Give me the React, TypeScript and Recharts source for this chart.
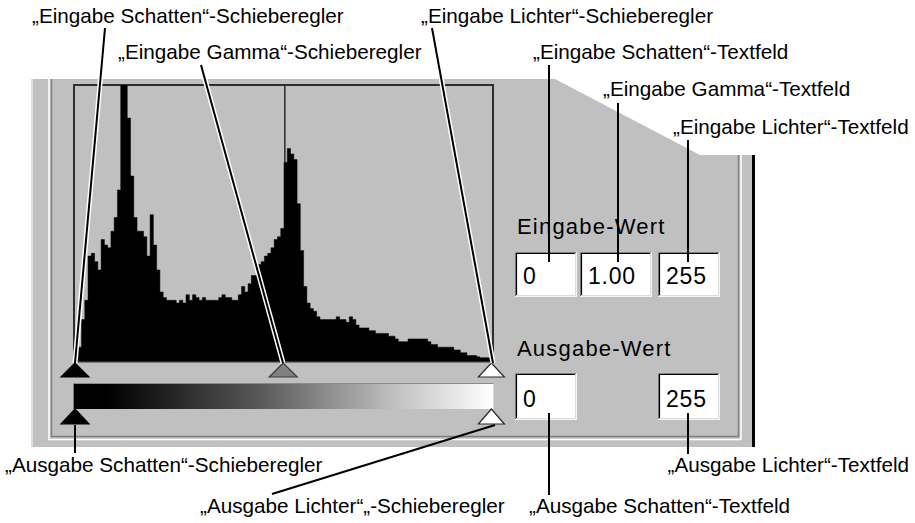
import React from "react";
import { AreaChart, Area, XAxis, YAxis, ReferenceDot, ReferenceArea, ReferenceLine } from "recharts";

// Histogram (relative counts, 100 = top of the histogram window), 128 bins of 2 levels each
const histogramBins = [
  1, 5, 15, 22, 38, 39, 36, 33, 44, 42, 41, 47, 52, 62, 100, 100,
  88, 67, 52, 47, 47, 45, 38, 53, 42, 33, 25, 23, 22, 22, 22, 21,
  22, 21, 24, 22, 24, 23, 22, 23, 22, 22, 22, 22, 23, 24, 23, 23,
  22, 22, 24, 27, 25, 28, 31, 31, 35, 36, 38, 39, 41, 44, 45, 48,
  72, 77, 75, 73, 57, 40, 27, 21, 19, 18, 16, 15, 15, 15, 15, 15,
  16, 15, 15, 14, 16, 15, 13, 12, 12, 12, 11, 11, 10, 10, 10, 10,
  9, 9, 8, 7, 7, 7, 8, 8, 8, 8, 8, 8, 7, 6, 6, 5,
  5, 5, 5, 5, 4, 4, 3, 3, 2, 2, 2, 1.5, 1.2, 1.2, 1.2, 1.2,
];
const BIN_WIDTH = 2;
// single-level spike that runs off the top of the window
const spikeLevel = 128.5;
const spikeBase = 72;
const spikeTop = 100;

const histogramData = [
  ...histogramBins.map((v, i) => ({ level: i * BIN_WIDTH, count: v })),
  // closing edge of the last step
  { level: histogramBins.length * BIN_WIDTH, count: histogramBins[histogramBins.length - 1] },
];

// Slider / field values
const inputLevels = [0, 255]; // Schatten, Lichter
const inputGamma = 1.0;
const outputLevels = [0, 255];
const inputFieldValues = ["0", "1.00", "255"];
const outputFieldValues = ["0", "255"];
const fieldGroupLabels = ["Eingabe-Wert", "Ausgabe-Wert"];

const topAnnotationTexts = [
  "\u201EEingabe Schatten\u201C-Schieberegler",
  "\u201EEingabe Gamma\u201C-Schieberegler",
  "\u201EEingabe Lichter\u201C-Schieberegler",
  "\u201EEingabe Schatten\u201C-Textfeld",
  "\u201EEingabe Gamma\u201C-Textfeld",
  "\u201EEingabe Lichter\u201C-Textfeld",
];
const bottomAnnotationTexts = [
  "\u201EAusgabe Schatten\u201C-Schieberegler",
  "\u201EAusgabe Lichter\u201C\u201E-Schieberegler",
  "\u201EAusgabe Schatten\u201C-Textfeld",
  "\u201EAusgabe Lichter\u201C-Textfeld",
];

// ---------- layout (not data) ----------
const W = 915;
const H = 523;
const ANN_FONT = "'Liberation Sans', Arial, Helvetica, sans-serif";
const topAnnLayout = [
  { x: 32, y: 23, anchor: "start", line: [105, 28, 75, 363], halo: true },
  { x: 118, y: 59, anchor: "start", line: [201, 65, 283, 363], halo: true },
  { x: 421, y: 23, anchor: "start", line: [432, 28, 493, 363], halo: true },
  { x: 533, y: 59, anchor: "start", line: [549, 65, 549, 262], halo: false },
  { x: 603, y: 96, anchor: "start", line: [618, 103, 618, 262], halo: false },
  { x: 673, y: 134, anchor: "start", line: [688, 140, 688, 262], halo: false },
];
const bottomAnnLayout = [
  { x: 5, y: 472, anchor: "start", line: [75, 425, 75, 453], halo: false },
  { x: 200, y: 513, anchor: "start", line: [495, 425, 272, 494], halo: false },
  { x: 529, y: 513, anchor: "start", line: [549, 413, 549, 495], halo: false },
  { x: 909, y: 472, anchor: "end", line: [688, 413, 688, 454], halo: false },
];
const inputBoxes = [
  { x: 515, y: 252, w: 62, h: 45 },
  { x: 580, y: 252, w: 72, h: 45 },
  { x: 658, y: 252, w: 62, h: 45 },
];
const outputBoxes = [
  { x: 515, y: 373, w: 62, h: 47 },
  { x: 658, y: 373, w: 62, h: 47 },
];

const tri =
  (fill: string, stroke: string, dy: number, h: number, hw: number) =>
  (props: any) => {
    const { cx, cy } = props;
    if (cx == null || cy == null) return <g />;
    return (
      <polygon
        points={`${cx},${cy + dy} ${cx - hw},${cy + dy + h} ${cx + hw},${cy + dy + h}`}
        fill={fill}
        stroke={stroke}
        strokeWidth={1.2}
        strokeLinejoin="miter"
      />
    );
  };

const gradientShape = (p: any) => {
  const { x, y, width, height } = p;
  if (x == null) return <g />;
  const top = y + height + 22;
  return (
    <g>
      <defs>
        <linearGradient id="outGrad" x1="0" x2="1" y1="0" y2="0">
          <stop offset="0" stopColor="#000" />
          <stop offset="0.08" stopColor="#000" />
          <stop offset="0.2" stopColor="#1c1c1c" />
          <stop offset="0.45" stopColor="#5a5a5a" />
          <stop offset="0.75" stopColor="#bcbcbc" />
          <stop offset="1" stopColor="#ffffff" />
        </linearGradient>
      </defs>
      <rect x={x - 2} y={top} width={width + 4} height={26} fill="url(#outGrad)" />
      <line x1={x - 2} y1={top + 0.5} x2={x + width + 2} y2={top + 0.5} stroke="#8a8a8a" strokeWidth={1} />
      <line x1={x - 1.5} y1={top} x2={x - 1.5} y2={top + 26} stroke="#7a7a7a" strokeWidth={1} />
    </g>
  );
};

function Field({ b, text }: { b: { x: number; y: number; w: number; h: number }; text: string }) {
  const { x, y, w, h } = b;
  return (
    <g>
      <rect x={x} y={y} width={w} height={h} fill="#ffffff" />
      <polyline points={`${x + 0.5},${y + h} ${x + 0.5},${y + 0.5} ${x + w},${y + 0.5}`} fill="none" stroke="#808080" strokeWidth={1} />
      <polyline points={`${x + 1.5},${y + h - 1} ${x + 1.5},${y + 1.5} ${x + w - 1},${y + 1.5}`} fill="none" stroke="#000" strokeWidth={1.2} />
      <polyline points={`${x},${y + h - 0.5} ${x + w - 0.5},${y + h - 0.5} ${x + w - 0.5},${y}`} fill="none" stroke="#f4f4f4" strokeWidth={1} />
      <polyline points={`${x + 1},${y + h - 1.5} ${x + w - 1.5},${y + h - 1.5} ${x + w - 1.5},${y + 1}`} fill="none" stroke="#dcdcdc" strokeWidth={1} />
      <text x={x + 8} y={y + h - 13} fontFamily={ANN_FONT} fontSize={23} letterSpacing={0.8} fill="#000">
        {text}
      </text>
    </g>
  );
}

export default function App() {
  const gammaLevel = inputLevels[0] + (inputLevels[1] - inputLevels[0]) * Math.pow(0.5, inputGamma);
  const xMax = histogramBins.length * BIN_WIDTH;
  return (
    <div style={{ position: "absolute", left: 0, top: 0, width: W, height: H, background: "#fff", overflow: "hidden" }}>
      {/* panel background */}
      <svg width={W} height={H} style={{ position: "absolute", left: 0, top: 0 }}>
        <polygon points="31,79 555,79 700,155 755,155 755,447 31,447" fill="#c0c0c0" />
        <rect x={31} y={79} width={2} height={368} fill="#dedede" />
        <rect x={752} y={155} width={3} height={292} fill="#000" />
        {/* etched groove */}
        <polyline points="49,79 49,439.5 741,439.5 741,155" fill="none" stroke="#ffffff" strokeWidth={1.5} />
        <polyline points="51.5,79 51.5,436.5 738.5,436.5 738.5,155" fill="none" stroke="#808080" strokeWidth={1.5} />
        {/* histogram window frame */}
        <rect x={74} y={85} width={419} height={276.5} fill="#c0c0c0" stroke="#2e2e2e" strokeWidth={2} />
      </svg>

      {/* histogram with sliders */}
      <div style={{ position: "absolute", left: 0, top: 0 }}>
        <AreaChart
          width={W}
          height={H}
          data={histogramData}
          margin={{ top: 85, right: 422, bottom: 162, left: 75 }}
        >
          <XAxis dataKey="level" type="number" domain={[0, xMax]} allowDataOverflow hide />
          <YAxis domain={[0, 100]} allowDataOverflow hide />
          <Area
            type="stepAfter"
            dataKey="count"
            fill="#000"
            fillOpacity={1}
            stroke="#000"
            strokeWidth={0.5}
            isAnimationActive={false}
            dot={false}
            activeDot={false}
          />
          <ReferenceLine
            segment={[
              { x: spikeLevel, y: spikeBase },
              { x: spikeLevel, y: spikeTop },
            ]}
            stroke="#2a2a2a"
            strokeWidth={1.5}
            ifOverflow="visible"
          />
          <ReferenceArea x1={outputLevels[0]} x2={outputLevels[1]} ifOverflow="visible" shape={gradientShape} />
          <ReferenceDot x={inputLevels[0]} y={0} ifOverflow="visible" shape={tri("#000", "#000", 2, 14, 14)} />
          <ReferenceDot x={gammaLevel} y={0} ifOverflow="visible" shape={tri("#808080", "#3c3c3c", 2, 14, 14)} />
          <ReferenceDot x={inputLevels[1]} y={0} ifOverflow="visible" shape={tri("#ffffff", "#2a2a2a", 2, 14, 13)} />
          <ReferenceDot x={outputLevels[0]} y={0} ifOverflow="visible" shape={tri("#000", "#000", 48, 15, 14)} />
          <ReferenceDot x={outputLevels[1]} y={0} ifOverflow="visible" shape={tri("#ffffff", "#2a2a2a", 48, 15, 13)} />
        </AreaChart>
      </div>

      {/* fields, labels, annotations */}
      <svg width={W} height={H} style={{ position: "absolute", left: 0, top: 0 }}>
        <text x={517} y={234} fontFamily={ANN_FONT} fontSize={22} letterSpacing={1.2} fill="#000">
          {fieldGroupLabels[0]}
        </text>
        <text x={517} y={356} fontFamily={ANN_FONT} fontSize={22} letterSpacing={1.2} fill="#000">
          {fieldGroupLabels[1]}
        </text>
        {inputFieldValues.map((t, i) => (
          <Field key={"in" + i} b={inputBoxes[i]} text={t} />
        ))}
        {outputFieldValues.map((t, i) => (
          <Field key={"out" + i} b={outputBoxes[i]} text={t} />
        ))}

        {[...topAnnLayout, ...bottomAnnLayout].map((a, i) => {
          const [x1, y1, x2, y2] = a.line;
          return (
            <g key={"ln" + i}>
              {a.halo && <line x1={x1} y1={y1} x2={x2} y2={y2} stroke="#fff" strokeWidth={5} />}
              <line x1={x1} y1={y1} x2={x2} y2={y2} stroke="#000" strokeWidth={2} />
            </g>
          );
        })}
        {topAnnotationTexts.map((t, i) => (
          <text key={"ta" + i} x={topAnnLayout[i].x} y={topAnnLayout[i].y} textAnchor={topAnnLayout[i].anchor as any} fontFamily={ANN_FONT} fontSize={20.7} fill="#000">
            {t}
          </text>
        ))}
        {bottomAnnotationTexts.map((t, i) => (
          <text key={"ba" + i} x={bottomAnnLayout[i].x} y={bottomAnnLayout[i].y} textAnchor={bottomAnnLayout[i].anchor as any} fontFamily={ANN_FONT} fontSize={20.7} fill="#000">
            {t}
          </text>
        ))}
      </svg>
    </div>
  );
}
